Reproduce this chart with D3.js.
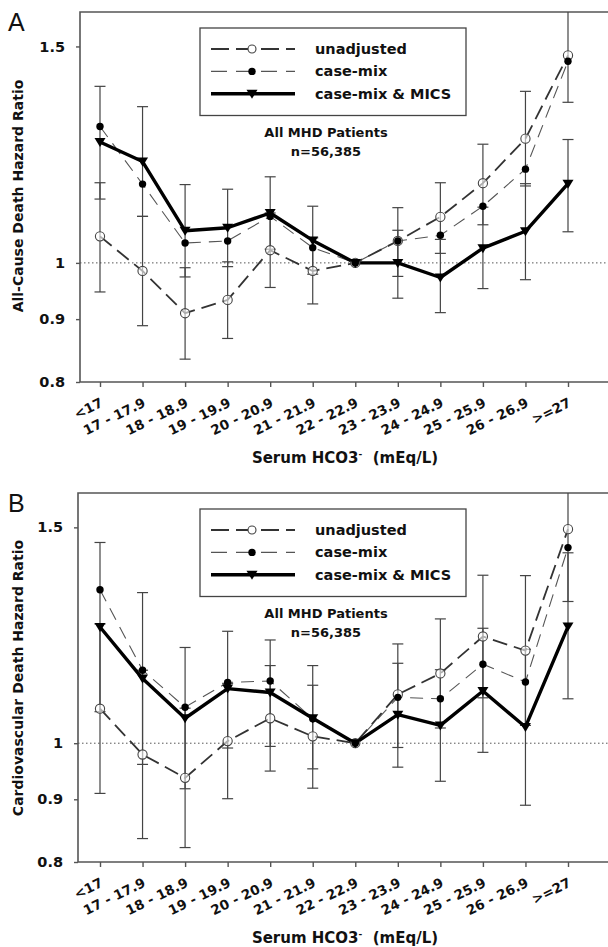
<!DOCTYPE html>
<html>
<head>
<meta charset="utf-8">
<script src="https://cdn.jsdelivr.net/npm/d3@7"></script>
<style>
body { margin: 0; background: #fff; }
</style>
</head>
<body>
<div id="chart"></div>
<script>
// hazard ratios (log y axis)
var categories = ["<17", "17 - 17.9", "18 - 18.9", "19 - 19.9", "20 - 20.9", "21 - 21.9",
    "22 - 22.9", "23 - 23.9", "24 - 24.9", "25 - 25.9", "26 - 26.9", ">=27"];
var yTicks = [0.8, 0.9, 1, 1.5];
var seriesNames = ["unadjusted", "case-mix", "case-mix & MICS"];

// A: all-cause death
var allUnadj   = [1.051, 0.985, 0.910, 0.933, 1.024, 0.985, 1, 1.042, 1.090, 1.161, 1.262, 1.475];
var allUnadjLo = [0.947, 0.889, 0.835, 0.868, 0.955, 0.926, 1, 0.975, 1.018, 1.074, 1.155, 1.351];
var allUnadjHi = [1.162, 1.091, 0.991, 1.002, 1.098, 1.048, 1, 1.109, 1.162, 1.249, 1.379, 1.610];
var allCaseMix = [1.291, 1.159, 1.038, 1.042, 1.091, 1.029, 1, 1.042, 1.053, 1.112, 1.192, 1.459];
var allMics    = [1.254, 1.209, 1.062, 1.068, 1.098, 1.043, 1, 1.000, 0.973, 1.028, 1.061, 1.160];
var allMicsLo  = [1.127, 1.091, 0.974, 0.993, 1.026, 0.979, 1, 0.936, 0.911, 0.953, 0.969, 1.060];
var allMicsHi  = [1.392, 1.340, 1.158, 1.148, 1.175, 1.112, 1, 1.063, 1.045, 1.110, 1.160, 1.260];

// B: cardiovascular death
var cvUnadj   = [1.067, 0.979, 0.937, 1.004, 1.048, 1.013, 1, 1.096, 1.140, 1.222, 1.190, 1.495];
var cvUnadjLo = [0.910, 0.836, 0.822, 0.901, 0.949, 0.919, 1, 0.992, 1.029, 1.089, 1.034, 1.305];
var cvUnadjHi = [1.251, 1.147, 1.068, 1.119, 1.157, 1.115, 1, 1.205, 1.263, 1.371, 1.370, 1.710];
var cvCaseMix = [1.334, 1.147, 1.070, 1.121, 1.124, 1.047, 1, 1.090, 1.087, 1.160, 1.122, 1.444];
var cvMics    = [1.244, 1.129, 1.048, 1.108, 1.100, 1.048, 1, 1.055, 1.034, 1.103, 1.031, 1.245];
var cvMicsLo  = [1.061, 0.961, 0.918, 0.991, 0.994, 0.953, 1, 0.956, 0.931, 0.983, 0.890, 1.087];
var cvMicsHi  = [1.458, 1.327, 1.197, 1.234, 1.214, 1.157, 1, 1.162, 1.148, 1.241, 1.193, 1.430];

var w = 608;
var h = 947;
var font = "'DejaVu Sans', sans-serif";

var svg = d3.select("#chart")
    .append("svg")
    .attr("width", w)
    .attr("height", h)
    .style("font-family", font);

var triangle = "M-5.5,-4L5.5,-4L0,5Z";

var drawPanel = function (p) {
    var g = svg.append("g");

    var x = d3.scalePoint()
        .domain(categories)
        .range([100, 568]);

    var y = d3.scaleLog()
        .domain([0.8, 1.6])
        .range([p.bottom, p.top]);

    g.append("clipPath")
        .attr("id", "clip" + p.id)
        .append("rect")
        .attr("x", p.left)
        .attr("y", p.top)
        .attr("width", w - p.left)
        .attr("height", p.bottom - p.top);

    // reference line at 1
    g.append("line")
        .attr("x1", p.left)
        .attr("x2", w)
        .attr("y1", y(1))
        .attr("y2", y(1))
        .attr("stroke", "#555")
        .attr("stroke-width", 1)
        .attr("stroke-dasharray", "1.5,2.5");

    // frame (right side is cut off in the figure)
    g.append("path")
        .attr("d", "M" + (w + 5) + "," + p.top + "H" + p.left + "V" + p.bottom + "H" + (w + 5))
        .attr("fill", "none")
        .attr("stroke", "#555")
        .attr("stroke-width", 1.6);

    //Y axis
    var yAxis = d3.axisLeft(y)
        .tickValues(yTicks)
        .tickSize(4)
        .tickPadding(11)
        .tickFormat(function (d) { return String(d); });
    var ya = g.append("g")
        .attr("transform", "translate(" + p.left + ",0)")
        .call(yAxis);
    ya.select(".domain").remove();
    ya.selectAll("line").attr("stroke", "#555").attr("stroke-width", 1.4);
    ya.selectAll("text")
        .attr("font-family", font)
        .attr("font-size", "14.5px")
        .attr("font-weight", "bold")
        .attr("fill", "#111");

    //X axis
    var xAxis = d3.axisBottom(x).tickSize(5);
    var xa = g.append("g")
        .attr("transform", "translate(0," + p.bottom + ")")
        .call(xAxis);
    xa.select(".domain").remove();
    xa.selectAll("line").attr("stroke", "#555").attr("stroke-width", 1.4);
    xa.selectAll("text")
        .attr("y", 0)
        .attr("dy", 0)
        .attr("transform", "translate(3.5,24) rotate(-26)")
        .style("text-anchor", "end")
        .attr("font-family", font)
        .attr("font-size", "13.5px")
        .attr("font-weight", "bold")
        .attr("fill", "#111");

    // axis titles
    var xt = g.append("text")
        .attr("x", 345)
        .attr("y", p.bottom + 81)
        .attr("text-anchor", "middle")
        .attr("font-size", "15px")
        .attr("font-weight", "bold")
        .attr("fill", "#111")
        .text("Serum HCO3");
    xt.append("tspan")
        .attr("dy", -6)
        .attr("font-size", "9px")
        .text("-");
    xt.append("tspan")
        .attr("dy", 6)
        .attr("xml:space", "preserve")
        .text("  (mEq/L)");

    g.append("text")
        .attr("transform", "translate(18.5," + p.titleY + ") rotate(-90)")
        .attr("dy", "0.35em")
        .attr("text-anchor", "middle")
        .attr("font-size", "14px")
        .attr("font-weight", "bold")
        .attr("fill", "#111")
        .text(p.yTitle);

    g.append("text")
        .attr("x", 8)
        .attr("y", p.top + 19)
        .attr("font-family", "'Liberation Sans', Arial, sans-serif")
        .attr("font-size", "25px")
        .attr("fill", "#111")
        .text(p.label);

    // data layer
    var d = g.append("g").attr("clip-path", "url(#clip" + p.id + ")");

    var errorBars = function (lo, hi) {
        categories.forEach(function (c, i) {
            if (lo[i] == hi[i]) return;
            var cx = x(c);
            d.append("line")
                .attr("x1", cx).attr("x2", cx)
                .attr("y1", y(lo[i])).attr("y2", y(hi[i]))
                .attr("stroke", "#444").attr("stroke-width", 1.2);
            [lo[i], hi[i]].forEach(function (v) {
                d.append("line")
                    .attr("x1", cx - 5.5).attr("x2", cx + 5.5)
                    .attr("y1", y(v)).attr("y2", y(v))
                    .attr("stroke", "#444").attr("stroke-width", 1.2);
            });
        });
    };
    errorBars(p.unadjLo, p.unadjHi);
    errorBars(p.micsLo, p.micsHi);

    var line = d3.line()
        .x(function (v, i) { return x(categories[i]); })
        .y(function (v) { return y(v); });

    d.append("path")
        .attr("d", line(p.caseMix))
        .attr("fill", "none")
        .attr("stroke", "#555")
        .attr("stroke-width", 1.1)
        .attr("stroke-dasharray", "13,8");

    d.append("path")
        .attr("d", line(p.unadj))
        .attr("fill", "none")
        .attr("stroke", "#333")
        .attr("stroke-width", 1.8)
        .attr("stroke-dasharray", "15,7");

    d.append("path")
        .attr("d", line(p.mics))
        .attr("fill", "none")
        .attr("stroke", "#000")
        .attr("stroke-width", 3.4)
        .attr("stroke-linejoin", "round");

    d.selectAll(".open")
        .data(p.unadj)
        .enter()
        .append("circle")
        .attr("cx", function (v, i) { return x(categories[i]); })
        .attr("cy", function (v) { return y(v); })
        .attr("r", 4.6)
        .attr("fill", "#fff")
        .attr("fill-opacity", 0.6)
        .attr("stroke", "#444")
        .attr("stroke-width", 1.1);

    d.selectAll(".filled")
        .data(p.caseMix)
        .enter()
        .append("circle")
        .attr("cx", function (v, i) { return x(categories[i]); })
        .attr("cy", function (v) { return y(v); })
        .attr("r", 3.7)
        .attr("fill", "#000");

    d.selectAll(".tri")
        .data(p.mics)
        .enter()
        .append("path")
        .attr("d", triangle)
        .attr("transform", function (v, i) {
            return "translate(" + x(categories[i]) + "," + y(v) + ")";
        })
        .attr("fill", "#000");

    //Add legend
    var lx = 200, ly = p.top + 16;
    g.append("rect")
        .attr("x", lx)
        .attr("y", ly)
        .attr("width", 266)
        .attr("height", 87.5)
        .attr("fill", "#fff")
        .attr("stroke", "#444")
        .attr("stroke-width", 1.3);

    var rowY = function (i) { return ly + 21 + i * 22.4; };
    var styles = [
        { stroke: "#333", width: 1.8, dash: "18,7" },
        { stroke: "#555", width: 1.1, dash: "16,9" },
        { stroke: "#000", width: 3.6, dash: null }
    ];
    seriesNames.forEach(function (name, i) {
        var ry = rowY(i);
        g.append("line")
            .attr("x1", 211).attr("x2", 295)
            .attr("y1", ry).attr("y2", ry)
            .attr("stroke", styles[i].stroke)
            .attr("stroke-width", styles[i].width)
            .attr("stroke-dasharray", styles[i].dash);
        if (i == 0) {
            g.append("circle").attr("cx", 252).attr("cy", ry).attr("r", 4)
                .attr("fill", "#fff").attr("stroke", "#444").attr("stroke-width", 1.1);
        } else if (i == 1) {
            g.append("circle").attr("cx", 252).attr("cy", ry).attr("r", 3.7).attr("fill", "#000");
        } else {
            g.append("path").attr("d", triangle)
                .attr("transform", "translate(252," + ry + ")").attr("fill", "#000");
        }
        g.append("text")
            .attr("x", 315)
            .attr("y", ry)
            .attr("dy", "0.35em")
            .attr("font-size", "14.5px")
            .attr("font-weight", "bold")
            .attr("fill", "#111")
            .text(name);
    });

    g.append("text")
        .attr("x", 326)
        .attr("y", p.top + 120)
        .attr("dy", "0.35em")
        .attr("text-anchor", "middle")
        .attr("font-size", "13px")
        .attr("font-weight", "bold")
        .attr("fill", "#111")
        .text("All MHD Patients");
    g.append("text")
        .attr("x", 326)
        .attr("y", p.top + 139.5)
        .attr("dy", "0.35em")
        .attr("text-anchor", "middle")
        .attr("font-size", "13px")
        .attr("font-weight", "bold")
        .attr("fill", "#111")
        .text("n=56,385");
};

drawPanel({
    id: "A", label: "A", top: 12, bottom: 382, left: 80, titleY: 196,
    yTitle: "All-Cause Death Hazard Ratio",
    unadj: allUnadj, unadjLo: allUnadjLo, unadjHi: allUnadjHi,
    caseMix: allCaseMix,
    mics: allMics, micsLo: allMicsLo, micsHi: allMicsHi
});

drawPanel({
    id: "B", label: "B", top: 493, bottom: 862, left: 78, titleY: 678,
    yTitle: "Cardiovascular Death Hazard Ratio",
    unadj: cvUnadj, unadjLo: cvUnadjLo, unadjHi: cvUnadjHi,
    caseMix: cvCaseMix,
    mics: cvMics, micsLo: cvMicsLo, micsHi: cvMicsHi
});
</script>
</body>
</html>
